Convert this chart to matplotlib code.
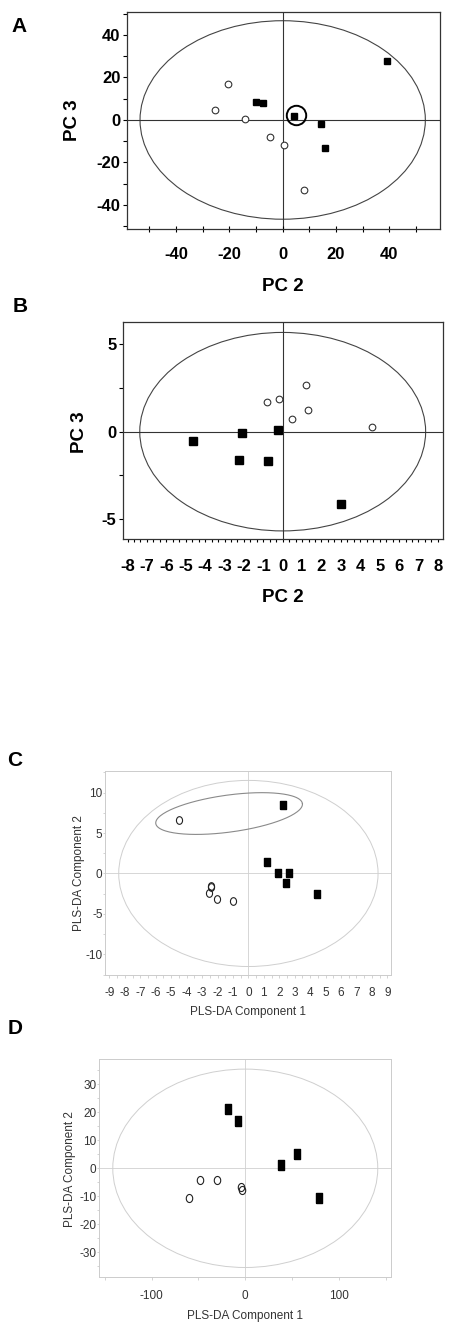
import numpy as np
import matplotlib
matplotlib.use('Agg')
import matplotlib.pyplot as plt
from matplotlib import font_manager
from matplotlib.patches import Ellipse
from matplotlib.ticker import MultipleLocator

W, H = 450, 1323

# --- DATA ---
# A: PCA scores, PC 2 vs PC 3
a_sq_x = [39.0, -10.0, -7.3, 4.2, 14.2, 15.9]
a_sq_y = [27.8, 8.3, 8.0, 1.9, -2.0, -13.2]
a_ci_x = [-20.4, -25.3, -14.0, -4.9, 0.6, 8.1]
a_ci_y = [16.8, 4.9, 0.3, -8.0, -11.9, -32.8]
a_hilite = (4.9, 2.4)
a_ellipse = (53.5, 46.7)

# B: PCA scores, PC 2 vs PC 3
b_sq_x = [-4.6, -2.1, -0.22, -2.24, -0.78, 3.02]
b_sq_y = [-0.55, -0.08, 0.08, -1.64, -1.68, -4.16]
b_ci_x = [-0.8, -0.17, 1.2, 0.49, 1.33, 4.62]
b_ci_y = [1.70, 1.85, 2.69, 0.73, 1.24, 0.27]
b_ellipse = (7.37, 5.68)

# C: PLS-DA scores
c_sq_x = [2.23, 1.21, 1.94, 2.61, 2.42, 4.47]
c_sq_y = [8.5, 1.4, 0.0, 0.0, -1.24, -2.6]
c_ci_x = [-4.49, -2.45, -2.40, -2.55, -2.03, -1.01]
c_ci_y = [6.58, -1.50, -1.65, -2.47, -3.17, -3.46]
c_ellipse = (8.4, 11.5)
c_group_ends = [(-6.0, 6.17), (3.5, 8.64)]   # ends of the small outlined group
c_group_width = 0.25                          # minor / major axis ratio

# D: PLS-DA scores
d_sq_x = [-18.8, -8.1, 37.8, 55.5, 78.7]
d_sq_y = [21.1, 17.0, 1.1, 5.1, -10.5]
d_ci_x = [-48.3, -29.9, -59.8, -4.9, -3.9]
d_ci_y = [-4.3, -4.3, -10.7, -6.6, -7.9]
d_ellipse = (141.4, 35.4)

# --- FONTS ---
names = {f.name for f in font_manager.fontManager.ttflist}
BOLD_FONT = 'Liberation Sans'
NARROW = 'Liberation Sans Narrow' if 'Liberation Sans Narrow' in names else 'Liberation Sans'
PLS_SIZE = 10 if NARROW == 'Liberation Sans Narrow' else 8.5
plt.rcParams['font.family'] = [BOLD_FONT, 'DejaVu Sans']
plt.rcParams['axes.unicode_minus'] = False


def rect(left, top, right, bottom):
    # pixel box -> figure fraction
    return [left / W, 1 - bottom / H, (right - left) / W, (bottom - top) / H]


def fig_text(x, y, s, **kw):
    fig.text(x / W, 1 - y / H, s, ha='center', va='center', **kw)


# tall rectangle and oval markers for the PLS-DA panels
RECT = [(-0.38, -0.5), (0.38, -0.5), (0.38, 0.5), (-0.38, 0.5), (-0.38, -0.5)]
t = np.linspace(0, 2 * np.pi, 40)
OVAL = list(zip(0.4 * np.cos(t), 0.5 * np.sin(t)))

fig = plt.figure(figsize=(W / 100, H / 100), dpi=100)


def pca_style(ax):
    for sp in ax.spines.values():
        sp.set_color('#333333')
        sp.set_linewidth(0.9)
    ax.axhline(0, color='#333333', lw=0.8, zorder=1)
    ax.axvline(0, color='#333333', lw=0.8, zorder=1)
    for lab in ax.get_xticklabels() + ax.get_yticklabels():
        lab.set_fontweight('bold')
        lab.set_fontsize(12)


def pls_style(ax):
    for sp in ax.spines.values():
        sp.set_color('#cccccc')
        sp.set_linewidth(0.7)
    ax.axhline(0, color='#d0d0d0', lw=0.6, zorder=1)
    ax.axvline(0, color='#d0d0d0', lw=0.6, zorder=1)
    ax.tick_params(which='both', colors='#cccccc', labelcolor='#333333')
    for lab in ax.get_xticklabels() + ax.get_yticklabels():
        lab.set_family(NARROW)
        lab.set_fontsize(PLS_SIZE)


# ---------- A ----------
ax = fig.add_axes(rect(126.7, 12, 440, 229))
ax.set_xlim(-58.5, 59)
ax.set_ylim(-51.3, 50.8)
ax.add_patch(Ellipse((0, 0), 2 * a_ellipse[0], 2 * a_ellipse[1], fill=False,
                     ec='#444444', lw=0.8))
ax.plot(a_ci_x, a_ci_y, 'o', ms=4.8, mfc='white', mec='#333333', mew=0.8, ls='none', zorder=3)
ax.plot(a_sq_x, a_sq_y, 's', ms=5.0, color='black', ls='none', zorder=3)
ax.plot(*a_hilite, 'o', ms=14, mfc='none', mec='black', mew=1.4, zorder=4)
ax.set_xticks([-40, -20, 0, 20, 40])
ax.set_yticks([-40, -20, 0, 20, 40])
ax.xaxis.set_minor_locator(MultipleLocator(10))
ax.yaxis.set_minor_locator(MultipleLocator(10))
ax.tick_params(axis='x', which='both', direction='inout', length=4, width=0.8, pad=11)
ax.tick_params(axis='y', which='both', direction='out', length=3, width=0.8, pad=1.5)
ax.tick_params(top=False, right=False)
pca_style(ax)
fig_text(283.3, 286.7, 'PC 2', fontsize=13.5, fontweight='bold')
fig_text(72.7, 120, 'PC 3', fontsize=13.5, fontweight='bold', rotation=90)
fig_text(19, 26, 'A', fontsize=15, fontweight='bold')

# ---------- B ----------
ax = fig.add_axes(rect(122.7, 322.3, 442.7, 539.3))
ax.set_xlim(-8.25, 8.25)
ax.set_ylim(-6.16, 6.26)
ax.add_patch(Ellipse((0, 0), 2 * b_ellipse[0], 2 * b_ellipse[1], fill=False,
                     ec='#444444', lw=0.8))
ax.plot(b_ci_x, b_ci_y, 'o', ms=4.8, mfc='white', mec='#333333', mew=0.8, ls='none', zorder=3)
ax.plot(b_sq_x, b_sq_y, 's', ms=5.3, color='black', ls='none', zorder=3)
ax.set_xticks(range(-8, 9))
ax.set_yticks([-5, 0, 5])
ax.xaxis.set_minor_locator(MultipleLocator(1 / 3))
ax.yaxis.set_minor_locator(MultipleLocator(2.5))
ax.tick_params(axis='x', which='both', direction='out', length=2.5, width=0.8, pad=12)
ax.tick_params(axis='y', which='both', direction='out', length=3, width=0.8, pad=1.5)
pca_style(ax)
fig_text(282.7, 597.7, 'PC 2', fontsize=13.5, fontweight='bold')
fig_text(79, 431.7, 'PC 3', fontsize=13.5, fontweight='bold', rotation=90)
fig_text(20, 307, 'B', fontsize=15, fontweight='bold')

# ---------- C ----------
ax = fig.add_axes(rect(105.3, 770.7, 390.7, 975))
ax.set_xlim(-9.27, 9.22)
ax.set_ylim(-12.55, 12.7)
ax.add_patch(Ellipse((0, 0), 2 * c_ellipse[0], 2 * c_ellipse[1], fill=False,
                     ec='#cfcfcf', lw=0.7))
# small outlined group, drawn as an ellipse in screen space
p1, p2 = ax.transData.transform(c_group_ends)
ctr = (p1 + p2) / 2
major = np.linalg.norm(p2 - p1) / 2
ang = np.arctan2(*(p2 - p1)[::-1])
tt = np.linspace(0, 2 * np.pi, 200)
ex = major * np.cos(tt)
ey = c_group_width * major * np.sin(tt)
pts = np.column_stack([ctr[0] + ex * np.cos(ang) - ey * np.sin(ang),
                       ctr[1] + ex * np.sin(ang) + ey * np.cos(ang)])
gx, gy = ax.transData.inverted().transform(pts).T
ax.plot(gx, gy, color='#8a8a8a', lw=0.8, zorder=2)
ax.plot(c_ci_x, c_ci_y, marker=OVAL, ms=5.5, mfc='none', mec='#222222', mew=0.8, ls='none', zorder=3)
ax.plot(c_sq_x, c_sq_y, marker=RECT, ms=6.2, color='black', ls='none', zorder=3)
ax.set_xticks(range(-9, 10))
ax.set_yticks([-10, -5, 0, 5, 10])
ax.xaxis.set_minor_locator(MultipleLocator(0.5))
ax.yaxis.set_minor_locator(MultipleLocator(2.5))
ax.tick_params(axis='x', which='both', direction='out', length=2, width=0.6, pad=7)
ax.tick_params(axis='y', which='both', direction='out', length=1.5, width=0.6, pad=0.5)
pls_style(ax)
fig_text(248.3, 1012.3, 'PLS-DA Component 1', fontsize=PLS_SIZE, family=NARROW, color='#333333')
fig_text(79.3, 873.3, 'PLS-DA Component 2', fontsize=PLS_SIZE, family=NARROW, color='#333333', rotation=90)
fig_text(15, 761, 'C', fontsize=15, fontweight='bold')

# ---------- D ----------
ax = fig.add_axes(rect(99.3, 1059.3, 390.7, 1277.3))
ax.set_xlim(-155.8, 155.2)
ax.set_ylim(-38.9, 38.9)
ax.add_patch(Ellipse((0, 0), 2 * d_ellipse[0], 2 * d_ellipse[1], fill=False,
                     ec='#cfcfcf', lw=0.7))
ax.plot(d_ci_x, d_ci_y, marker=OVAL, ms=5.8, mfc='none', mec='#222222', mew=0.8, ls='none', zorder=3)
ax.plot(d_sq_x, d_sq_y, marker=RECT, ms=6.5, color='black', ls='none', zorder=3)
ax.set_xticks([-100, 0, 100])
ax.set_yticks([-30, -20, -10, 0, 10, 20, 30])
ax.xaxis.set_minor_locator(MultipleLocator(50))
ax.yaxis.set_minor_locator(MultipleLocator(5))
ax.tick_params(axis='x', which='both', direction='out', length=2, width=0.6, pad=7)
ax.tick_params(axis='y', which='both', direction='out', length=1.5, width=0.6, pad=0.5)
pls_style(ax)
fig_text(245, 1316, 'PLS-DA Component 1', fontsize=PLS_SIZE, family=NARROW, color='#333333')
fig_text(70, 1169.3, 'PLS-DA Component 2', fontsize=PLS_SIZE, family=NARROW, color='#333333', rotation=90)
fig_text(15, 1029, 'D', fontsize=15, fontweight='bold')

fig.savefig('out.png', dpi=100)
